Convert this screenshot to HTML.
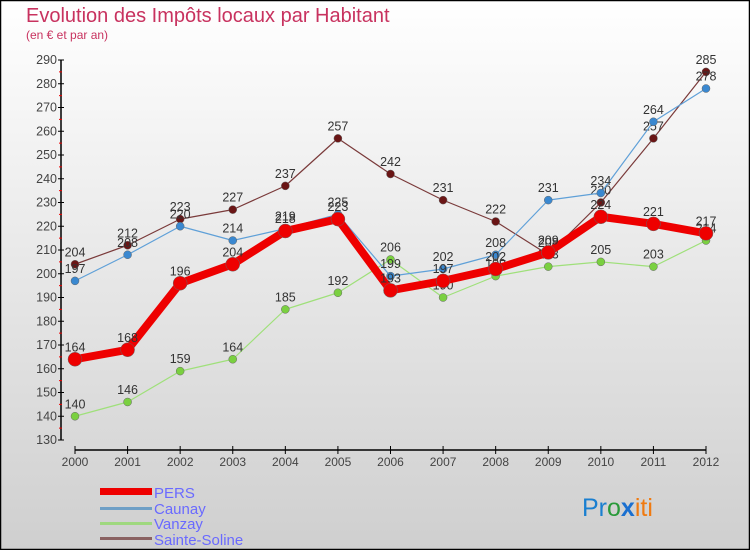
<!DOCTYPE html>
<html><head><meta charset="utf-8"><style>
body{margin:0;width:750px;height:550px;overflow:hidden}
svg{display:block;font-family:"Liberation Sans",sans-serif}
</style></head><body>
<svg width="750" height="550">
<defs><linearGradient id="bg" x1="0" y1="0" x2="0" y2="1"><stop offset="0" stop-color="#ffffff"/><stop offset="1" stop-color="#cfcfcf"/></linearGradient></defs>
<rect x="0.5" y="0.5" width="749" height="549" fill="url(#bg)" stroke="#000" stroke-width="1.5"/>
<text x="26" y="22" font-size="20" font-weight="300" fill="#c8325f">Evolution des Impôts locaux par Habitant</text>
<text x="26" y="39" font-size="12" fill="#c8325f">(en € et par an)</text>
<g id="axes"></g>
<g id="series"></g>
<g>
<rect x="100" y="488" width="52" height="7" fill="#e00"/>
<text x="154" y="498" font-size="15" fill="#6a6aff">PERS</text>
<rect x="100" y="507" width="52" height="3" fill="#6e9fc6"/>
<text x="154" y="514" font-size="15" fill="#6a6aff">Caunay</text>
<rect x="100" y="522" width="52" height="3" fill="#9fd87f"/>
<text x="154" y="529" font-size="15" fill="#6a6aff">Vanzay</text>
<rect x="100" y="537" width="52" height="3" fill="#8a6262"/>
<text x="154" y="545" font-size="15" fill="#6a6aff">Sainte-Soline</text>
</g>
<g font-size="25" font-family="'Liberation Sans',sans-serif">
<text x="582" y="516"><tspan fill="#1a7fd0">Pr</tspan><tspan fill="#2a9a3a">o</tspan><tspan fill="#1a6fd0" font-weight="bold">x</tspan><tspan fill="#f07a10">iti</tspan></text>
</g>
</svg>
<script>
const years=[2000,2001,2002,2003,2004,2005,2006,2007,2008,2009,2010,2011,2012];
const yTicks=[130,140,150,160,170,180,190,200,210,220,230,240,250,260,270,280,290];
const pers=[164,168,196,204,218,223,193,197,202,209,224,221,217];
const caunay=[197,208,220,214,219,225,199,202,208,231,234,264,278];
const vanzay=[140,146,159,164,185,192,206,190,199,203,205,203,214];
const sainte=[204,212,223,227,237,257,242,231,222,208,230,257,285];
const NS="http://www.w3.org/2000/svg";
const x=i=>75+i*(706-75)/12;
const y=v=>440-(v-130)*(380/160);
function mk(t,a,p){const e=document.createElementNS(NS,t);for(const k in a)e.setAttribute(k,a[k]);p.appendChild(e);return e;}
const ax=document.getElementById('axes');
const yl=mk('line',{x1:61,y1:60,x2:61,y2:440,stroke:'#000','stroke-width':1.5},ax);


const xl=mk('line',{x1:75,y1:450,x2:706,y2:450,stroke:'#000','stroke-width':1.5},ax);


yTicks.forEach((v,i)=>{
 mk('line',{x1:58,x2:64,y1:y(v),y2:y(v),stroke:'#000'},ax);
 if(i<yTicks.length-1)mk('line',{x1:59,x2:62,y1:y(v+5),y2:y(v+5),stroke:'#e00'},ax);
 const t=mk('text',{x:57,y:y(v)+4,'text-anchor':'end','font-size':12.5,fill:'#444'},ax);
 t.textContent=v;
 
 
});
years.forEach((yr,i)=>{
 mk('line',{x1:x(i),x2:x(i),y1:446,y2:454,stroke:'#000'},ax);
 const t=mk('text',{x:x(i),y:466,'text-anchor':'middle','font-size':12,fill:'#444'},ax);
 t.textContent=yr;
 
 
});
const sg=document.getElementById('series');
function draw(data,name,color,w,r,dot){
 const g=mk('g',{},sg);
 
 
 const pl=mk('polyline',{points:data.map((v,i)=>x(i)+','+y(v)).join(' '),fill:'none',stroke:color,'stroke-width':w,'stroke-linejoin':'round'},g);
 
 
 data.forEach((v,i)=>{
  const c=mk('circle',{cx:x(i),cy:y(v),r:r,fill:dot,stroke:'#666','stroke-width':0.5},g);
  
  
  const t=mk('text',{x:x(i),y:y(v)-8,'text-anchor':'middle','font-size':12.5,fill:'#333'},g);
  t.textContent=v;
  
  
 });
}
draw(sainte,'sainte-soline','#7a3a3a',1.2,4,'#6a1515');
draw(vanzay,'vanzay','#9fe07a',1.2,4,'#7ad040');
draw(caunay,'caunay','#5fa0d8',1.2,4,'#3a88d0');
draw(pers,'pers','#ee0000',8,7,'#ee0000');
</script>
</body></html>
